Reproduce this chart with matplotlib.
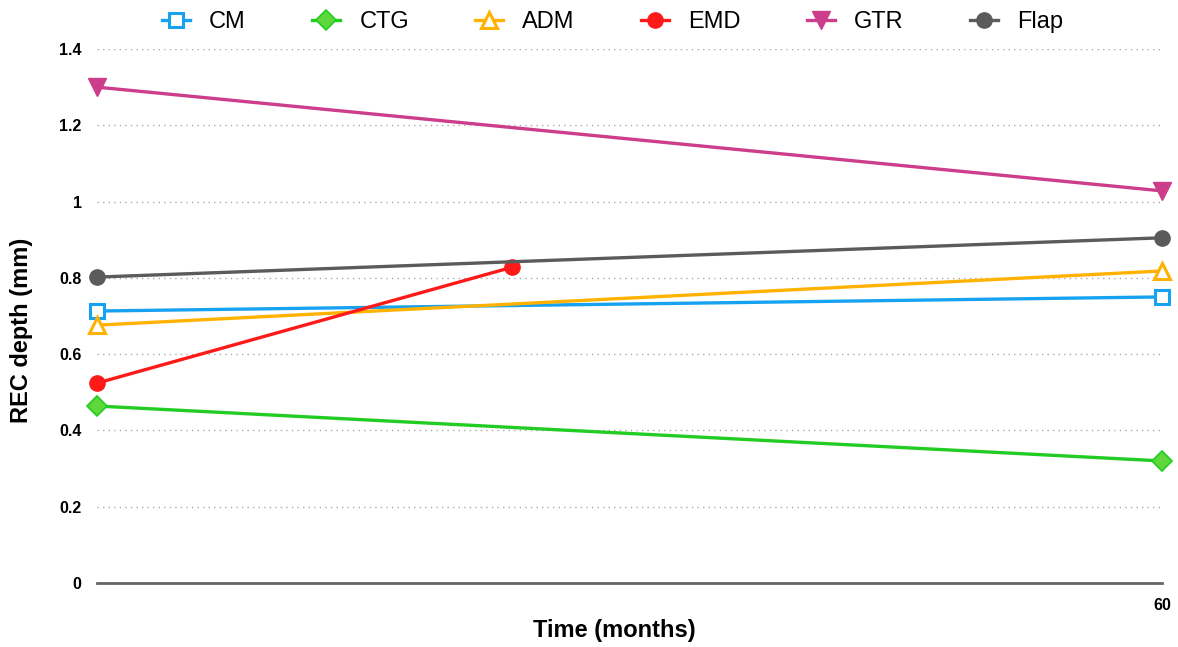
import matplotlib.pyplot as plt
from matplotlib.ticker import FuncFormatter

plt.rcParams['font.family'] = ['Liberation Sans', 'DejaVu Sans']

# data
months = [0, 60]
emd_months = [0, 23.4]
cm = [0.713, 0.750]
ctg = [0.464, 0.320]
adm = [0.676, 0.818]
emd = [0.524, 0.828]
gtr = [1.300, 1.028]
flap = [0.802, 0.905]

fig = plt.figure(figsize=(11.78, 6.47), dpi=100)
ax = fig.add_axes([0.0823, 0.0989, 0.9041, 0.8254])

lw = 2.4
ms = 11
ax.plot(months, cm, color='#17a2f0', lw=lw, marker='s', ms=ms - 1, mfc='white',
        mec='#17a2f0', mew=2.2, label='CM', clip_on=False, zorder=5)
ax.plot(months, ctg, color='#22cc22', lw=lw, marker='D', ms=ms - 1, mfc='#5ed83c',
        mec='#22cc22', mew=1.2, label='CTG', clip_on=False, zorder=5)
ax.plot(months, adm, color='#ffb300', lw=lw, marker='^', ms=ms + 1, mfc='white',
        mec='#ffb300', mew=2.2, label='ADM', clip_on=False, zorder=5)
ax.plot(emd_months, emd, color='#ff1a1a', lw=lw, marker='o', ms=ms, mfc='#ff1a1a',
        mec='#ff1a1a', label='EMD', clip_on=False, zorder=5)
ax.plot(months, gtr, color='#cc3d8b', lw=lw, marker='v', ms=ms + 2, mfc='#cc3d8b',
        mec='#cc3d8b', label='GTR', clip_on=False, zorder=5)
ax.plot(months, flap, color='#5b5b5b', lw=lw, marker='o', ms=ms, mfc='#5b5b5b',
        mec='#5b5b5b', label='Flap', clip_on=False, zorder=5)

ax.set_xlim(0, 60)
ax.set_ylim(0, 1.4)
ax.set_xticks([0, 60])
ax.set_xticklabels(['', '60'])
ax.set_yticks([0, 0.2, 0.4, 0.6, 0.8, 1.0, 1.2, 1.4])
ax.yaxis.set_major_formatter(FuncFormatter(lambda v, p: '%g' % round(v, 1)))
ax.tick_params(length=0, labelsize=11.5)
ax.tick_params(axis='y', pad=11)
ax.tick_params(axis='x', pad=11)
for lab in ax.get_xticklabels() + ax.get_yticklabels():
    lab.set_fontweight('bold')

ax.grid(axis='y', linestyle=(0, (1, 3)), color='#aaaaaa', lw=1)
ax.set_axisbelow(True)
for s in ['top', 'right', 'left']:
    ax.spines[s].set_visible(False)
ax.spines['bottom'].set_color('#666666')
ax.spines['bottom'].set_linewidth(2)

ax.set_xlabel('Time (months)', fontsize=17, fontweight='bold', va='center')
ax.xaxis.set_label_coords(0.486, -0.088)
ax.set_ylabel('REC depth (mm)', fontsize=17, fontweight='bold', va='center')
ax.yaxis.set_label_coords(-0.0704, 0.474)

ax.legend(loc='upper center', bbox_to_anchor=(0.484, 1.11), ncol=6, frameon=False,
          fontsize=17, handlelength=1.2, columnspacing=2.8, handletextpad=0.8)

plt.savefig('out.png', dpi=100)
